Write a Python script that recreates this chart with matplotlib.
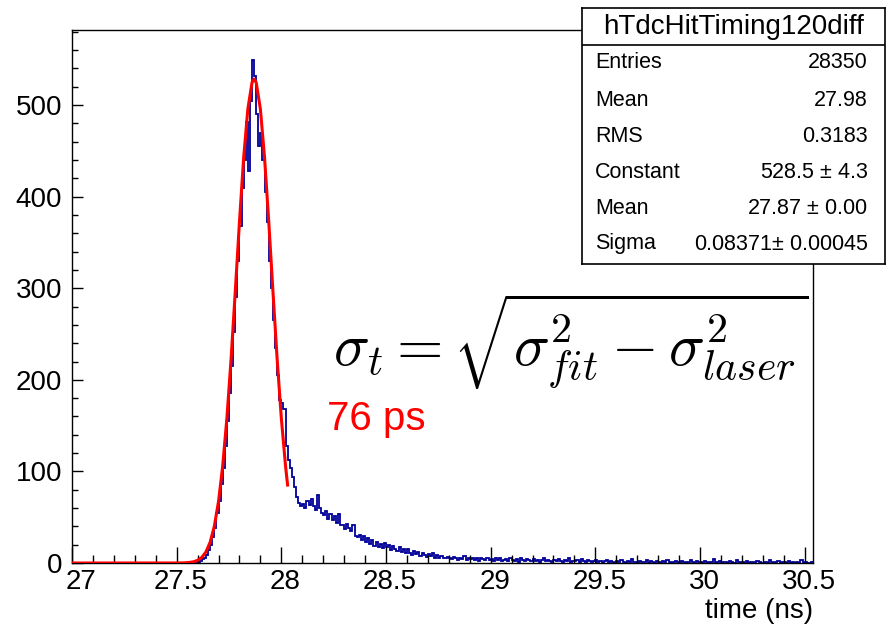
import numpy as np
import matplotlib
matplotlib.use("Agg")
import matplotlib.pyplot as plt
import matplotlib.transforms as mtransforms
from matplotlib.ticker import MultipleLocator


# -----------------------------
# Histogram data (bin width 0.01 ns, starting at 27.00 ns)
# -----------------------------
BIN_LOW = 27.0
BIN_WIDTH = 0.01

# 27.00 - 27.59 : empty
COUNTS_LOW = [0] * 60

# 27.60 - 28.79 : peak and tail
COUNTS_PEAK = [
    1, 2, 4, 6, 9, 14, 20, 28, 38, 55,
    68, 86, 104, 128, 155, 186, 215, 252, 290, 330,
    368, 410, 440, 482, 428, 505, 549, 532, 490, 455,
    470, 440, 405, 372, 330, 300, 265, 235, 205, 178,
    175, 168, 128, 112, 104, 94, 83, 72, 66, 62,
    64, 60, 68, 63, 70, 62, 58, 74, 60, 55,
    52, 57, 48, 53, 47, 51, 44, 53, 42, 41,
    37, 43, 38, 35, 41, 30, 28, 31, 25, 29,
    23, 27, 21, 25, 19, 23, 18, 21, 16, 22,
    17, 20, 14, 19, 15, 13, 17, 12, 15, 11,
    15, 11, 9, 13, 10, 12, 8, 11, 9, 7,
    10, 8, 11, 6, 9, 5, 8, 6, 5, 7,
]

# 28.80 - 30.53 : far tail
COUNTS_TAIL = [
    6, 4, 7, 5, 3, 6, 4, 8, 3, 5,
    4, 6, 3, 5, 2, 6, 4, 3, 5, 3,
    4, 2, 5, 3, 6, 2, 3, 4, 2, 5,
    3, 2, 4, 1, 5, 3, 2, 4, 3, 2,
    4, 2, 3, 1, 3, 5, 2, 3, 2, 1,
    3, 2, 4, 2, 1, 3, 2, 5, 1, 2,
    2, 3, 1, 4, 2, 1, 3, 2, 1, 2,
    3, 1, 2, 0, 2, 3, 1, 2, 1, 0,
    2, 1, 3, 1, 0, 2, 1, 4, 1, 1,
    0, 2, 1, 1, 3, 0, 2, 1, 0, 2,
    1, 0, 2, 1, 3, 1, 0, 1, 2, 1,
    0, 2, 1, 0, 1, 3, 1, 0, 2, 1,
    1, 0, 2, 1, 0, 1, 4, 0, 1, 2,
    0, 1, 1, 0, 2, 1, 0, 3, 1, 0,
    1, 0, 2, 0, 1, 1, 0, 2, 1, 0,
    0, 1, 0, 3, 1, 0, 1, 2, 0, 1,
    1, 0, 2, 0, 1, 0, 1, 0, 3, 0,
    1, 0, 0, 1,
]

# -----------------------------
# Gaussian fit curve
# -----------------------------
FIT_X = [27.00, 27.50, 27.54, 27.56, 27.58, 27.60, 27.62, 27.64, 27.66,
         27.68, 27.70, 27.72, 27.74, 27.76, 27.78, 27.80, 27.82, 27.84,
         27.86, 27.87, 27.88, 27.90, 27.92, 27.94, 27.96, 27.98, 28.00,
         28.02, 28.03]
FIT_Y = [0, 0.03, 0.2, 0.6, 1.3, 2.9, 6.1, 12.1, 22.7,
         40.2, 67.2, 106.2, 158.2, 222.9, 296.5, 372.5, 442.3, 495.6,
         524.7, 528.5, 524.7, 495.6, 442.3, 372.5, 296.5, 222.9, 158.2,
         106.2, 85.1]

# -----------------------------
# Stats box
# -----------------------------
HIST_NAME = "hTdcHitTiming120diff"
STAT_LABELS = ["Entries", "Mean", "RMS", "Constant", "Mean", "Sigma"]
STAT_VALUES = ["28350", "27.98", "0.3183", "528.5 $\\pm$ 4.3",
               "27.87 $\\pm$ 0.00", "0.08371$\\pm$ 0.00045"]

X_TICKS = [27, 27.5, 28, 28.5, 29, 29.5, 30, 30.5]
X_TICK_LABELS = ["27", "27.5", "28", "28.5", "29", "29.5", "30", "30.5"]
Y_TICKS = [0, 100, 200, 300, 400, 500]

HIST_COLOR = "#00009a"
FIT_COLOR = "#ff0000"

plt.rcParams["font.family"] = ["Liberation Sans", "DejaVu Sans"]
plt.rcParams["mathtext.fontset"] = "custom"
plt.rcParams["mathtext.rm"] = "Liberation Sans"


def main():
    counts = np.array(COUNTS_LOW + COUNTS_PEAK + COUNTS_TAIL, dtype=float)
    edges = BIN_LOW + BIN_WIDTH * np.arange(len(counts) + 1)

    fig = plt.figure(figsize=(8.93, 6.29), dpi=100)
    ax = fig.add_axes([72 / 893, 66 / 629, 741 / 893, 533 / 629])

    ax.stairs(counts, edges, color=HIST_COLOR, linewidth=1.3, baseline=None)
    ax.plot(FIT_X, FIT_Y, color=FIT_COLOR, linewidth=2.2, zorder=3)

    ax.set_xlim(27.0, 30.54)
    ax.set_ylim(0, 582)

    ax.set_xticks(X_TICKS)
    ax.set_xticklabels(X_TICK_LABELS)
    ax.xaxis.set_minor_locator(MultipleLocator(0.1))
    ax.set_yticks(Y_TICKS)
    ax.yaxis.set_minor_locator(MultipleLocator(20))

    ax.tick_params(axis="x", which="major", direction="in", length=11.5,
                   width=1, labelsize=20, pad=4)
    ax.tick_params(axis="x", which="minor", direction="in", length=5.8,
                   width=1)
    ax.tick_params(axis="y", which="major", direction="in", length=8,
                   width=1, labelsize=20, pad=7)
    ax.tick_params(axis="y", which="minor", direction="in", length=4,
                   width=1)
    for spine in ax.spines.values():
        spine.set_linewidth(1.0)

    # ROOT puts the x labels a little right of the ticks
    for i, lab in enumerate(ax.get_xticklabels()):
        dx = 9 if i == 0 else 4
        lab.set_transform(lab.get_transform() + mtransforms.ScaledTranslation(
            dx / 100, 0, fig.dpi_scale_trans))

    fig.text(813 / 893, 1 - 611 / 629, "time (ns)", fontsize=20,
             ha="right", va="center")

    # annotations
    ax.text(28.218, 145, "76 ps", color="red", fontsize=29, va="baseline")
    ax.text(28.246, 216,
            r"$\sigma_t = \sqrt{\sigma_{fit}^2 - \sigma_{laser}^2}$",
            fontsize=43, va="baseline", math_fontfamily="cm")

    # stats box
    box = fig.add_axes([582 / 893, 1 - 264 / 629, 303 / 893, 256 / 629])
    box.set_xlim(0, 1)
    box.set_ylim(0, 1)
    box.set_xticks([])
    box.set_yticks([])
    box.set_facecolor("white")
    for spine in box.spines.values():
        spine.set_linewidth(1.2)
    sep_y = (264 - 45) / 256
    box.axhline(sep_y, color="black", linewidth=1.2)
    box.text(0.5, (264 - 26.5) / 256, HIST_NAME, fontsize=20,
             ha="center", va="center")

    row_y = [63, 100, 136.5, 173, 209, 244]
    for label, value, y in zip(STAT_LABELS, STAT_VALUES, row_y):
        yf = (264 - y) / 256
        box.text(0.043, yf, label, fontsize=15.5, ha="left", va="center")
        box.text(0.944, yf, value, fontsize=15.5, ha="right", va="center")

    fig.savefig("out.png", dpi=100)
    plt.close(fig)


if __name__ == "__main__":
    main()
